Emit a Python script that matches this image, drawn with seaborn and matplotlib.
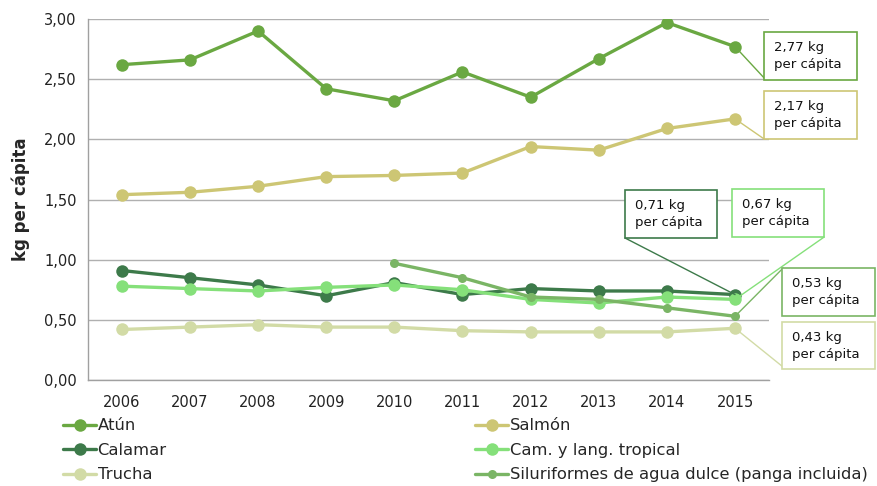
import matplotlib
matplotlib.use("Agg")
import matplotlib.pyplot as plt
import seaborn as sns
import pandas as pd
import numpy as np
from matplotlib.lines import Line2D
from matplotlib.patches import Rectangle

years = [2006, 2007, 2008, 2009, 2010, 2011, 2012, 2013, 2014, 2015]
series_names = ["Atún", "Salmón", "Calamar", "Cam. y lang. tropical", "Trucha",
                "Siluriformes de agua dulce (panga incluida)"]
atun = [2.62, 2.66, 2.90, 2.42, 2.32, 2.56, 2.35, 2.67, 2.97, 2.77]
salmon = [1.54, 1.56, 1.61, 1.69, 1.70, 1.72, 1.94, 1.91, 2.09, 2.17]
calamar = [0.91, 0.85, 0.79, 0.70, 0.81, 0.71, 0.76, 0.74, 0.74, 0.71]
camaron = [0.78, 0.76, 0.74, 0.77, 0.79, 0.75, 0.67, 0.64, 0.69, 0.67]
trucha = [0.42, 0.44, 0.46, 0.44, 0.44, 0.41, 0.40, 0.40, 0.40, 0.43]
siluro = [np.nan, np.nan, np.nan, np.nan, 0.97, 0.85, 0.69, 0.67, 0.60, 0.53]
yticks = [0.0, 0.5, 1.0, 1.5, 2.0, 2.5, 3.0]
ytick_labels = ["0,00", "0,50", "1,00", "1,50", "2,00", "2,50", "3,00"]
labels_last = ["2,77 kg\nper cápita", "2,17 kg\nper cápita", "0,71 kg\nper cápita",
               "0,67 kg\nper cápita", "0,43 kg\nper cápita", "0,53 kg\nper cápita"]

colors = ["#6aa842", "#cdc674", "#3d7a4a", "#85e07a", "#d2dba6", "#7ab565"]
values = [atun, salmon, calamar, camaron, trucha, siluro]
msizes = [9, 9, 9, 9, 9, 6.5]

sns.set_theme(style="white")
plt.rcParams['font.family'] = ['DejaVu Sans']

fig = plt.figure(figsize=(8.77, 4.86), dpi=100)
ax = fig.add_axes([0.100, 0.218, 0.777, 0.743])

for name, vals, col, ms in zip(series_names, values, colors, msizes):
    df = pd.DataFrame({"year": years, "v": vals}).dropna()
    sns.lineplot(data=df, x="year", y="v", ax=ax, color=col, linewidth=2.4,
                 marker="o", markersize=ms, markeredgewidth=0, legend=False)

ax.set_xlim(2005.5, 2015.5)
ax.set_ylim(0, 3.0)
ax.set_yticks(yticks)
ax.set_yticklabels(ytick_labels, fontsize=10.5, color="#222222")
ax.set_xticks(years)
ax.set_xticklabels([str(y) for y in years], fontsize=10.5, color="#222222")
ax.tick_params(axis="both", length=0, pad=8)
ax.tick_params(axis="x", pad=11)
ax.set_xlabel("")
ax.set_ylabel("kg per cápita", fontsize=12, fontweight="bold", labelpad=10)
ax.yaxis.grid(True, color="#b0b0b0", linewidth=1)
ax.set_axisbelow(True)
for s in ["top", "right"]:
    ax.spines[s].set_visible(False)
ax.spines["left"].set_color("#a0a0a0")
ax.spines["bottom"].set_color("#a0a0a0")
ax.spines["left"].set_linewidth(1)
ax.spines["bottom"].set_linewidth(1)

def pix2ax(px, py):
    x0, x1 = 88, 769
    y0, y1 = 380, 19
    return (px - x0) / (x1 - x0), (y0 - py) / (y0 - y1)

boxes = [
    # series index, box left, top, right, bottom (pixels), leader corner (pixels)
    (0, 764, 32, 857, 80, (764, 78)),
    (1, 764, 91, 857, 139, (764, 139)),
    (2, 625, 190, 717, 238, (625, 238)),
    (3, 732, 189, 824, 237, (824, 237)),
    (5, 782, 268, 875, 316, (783, 268)),
    (4, 782, 322, 875, 369, (783, 367)),
]
for si, l, t, r, b, corner in boxes:
    lx, ty = pix2ax(l, t)
    rx, by = pix2ax(r, b)
    col = colors[si]
    rect = Rectangle((lx, by), rx - lx, ty - by, transform=ax.transAxes,
                     facecolor="white", edgecolor=col, linewidth=1.2,
                     clip_on=False, zorder=5)
    ax.add_patch(rect)
    ax.text(lx + 0.015, (ty + by) / 2, labels_last[si], transform=ax.transAxes,
            fontsize=9.5, va="center", ha="left", color="#111111",
            linespacing=1.4, zorder=6, clip_on=False)
    cx, cy = pix2ax(*corner)
    px, py = ax.transData.transform((2015, values[si][-1]))
    px, py = ax.transAxes.inverted().transform((px, py))
    ax.add_line(Line2D([px, cx], [py, cy], transform=ax.transAxes, color=col,
                       linewidth=1, clip_on=False, zorder=4))

def handle(col, ms):
    return Line2D([0], [0], color=col, linewidth=2.4, marker="o", markersize=ms,
                  markeredgewidth=0)

order1 = [0, 2, 4]
order2 = [1, 3, 5]
common = dict(loc="upper left", frameon=False, fontsize=11.8, handlelength=2.0,
              handletextpad=0.1, labelspacing=0.58, borderpad=0, borderaxespad=0)
fig.legend([handle(colors[i], msizes[i]) for i in order1],
           [series_names[i] for i in order1], bbox_to_anchor=(0.072, 0.139), **common)
fig.legend([handle(colors[i], msizes[i]) for i in order2],
           [series_names[i] for i in order2], bbox_to_anchor=(0.542, 0.139), **common)

fig.savefig("out.png", dpi=100)
